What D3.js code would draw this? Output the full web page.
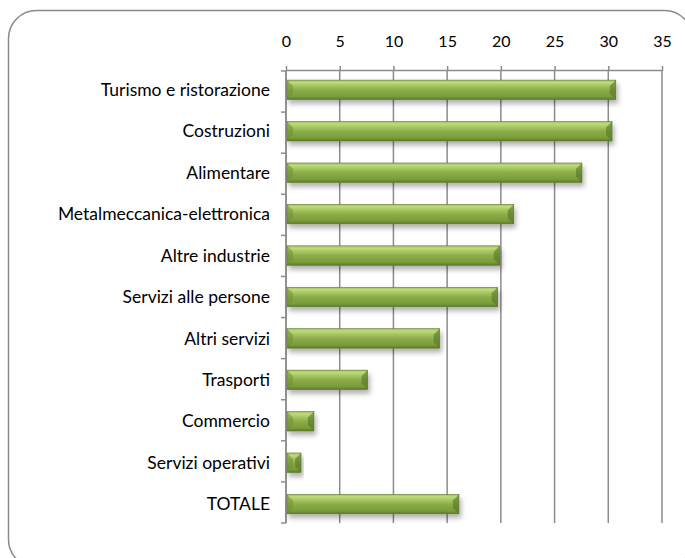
<!DOCTYPE html>
<html>
<head>
<meta charset="utf-8">
<script src="https://cdn.jsdelivr.net/npm/d3@7"></script>
<style>
  body { margin: 0; background: #fff; }
  text { font-family: Lato, "Open Sans", sans-serif; fill: #000; }
</style>
</head>
<body>
<div id="chart"></div>
<script>
const categories = [
  "Turismo e ristorazione",
  "Costruzioni",
  "Alimentare",
  "Metalmeccanica-elettronica",
  "Altre industrie",
  "Servizi alle persone",
  "Altri servizi",
  "Trasporti",
  "Commercio",
  "Servizi operativi",
  "TOTALE"
];
const values = [30.7, 30.35, 27.55, 21.2, 19.9, 19.7, 14.3, 7.6, 2.6, 1.4, 16.1];
const xTicks = [0, 5, 10, 15, 20, 25, 30, 35];

const data = categories.map((c, i) => ({ cat: c, value: values[i] }));

const svg = d3.select("#chart")
  .append("svg")
  .attr("width", 685)
  .attr("height", 558);

const defs = svg.append("defs");

const grad = defs.append("linearGradient")
  .attr("id", "barGrad")
  .attr("x1", 0).attr("y1", 0).attr("x2", 0).attr("y2", 1);
grad.append("stop").attr("offset", "0%").attr("stop-color", "#a0bf5c");
grad.append("stop").attr("offset", "12%").attr("stop-color", "#bfdb7c");
grad.append("stop").attr("offset", "28%").attr("stop-color", "#a8c763");
grad.append("stop").attr("offset", "50%").attr("stop-color", "#8bad48");
grad.append("stop").attr("offset", "85%").attr("stop-color", "#7a9b3a");
grad.append("stop").attr("offset", "100%").attr("stop-color", "#5a782c");

const shadow = defs.append("filter")
  .attr("id", "shadow")
  .attr("x", "-10%").attr("y", "-30%")
  .attr("width", "130%").attr("height", "200%");
shadow.append("feDropShadow")
  .attr("dx", 2).attr("dy", 4)
  .attr("stdDeviation", 2.5)
  .attr("flood-color", "#000")
  .attr("flood-opacity", 0.3);

// chart frame
svg.append("rect")
  .attr("x", 8.5).attr("y", 10.5)
  .attr("width", 684).attr("height", 557)
  .attr("rx", 28).attr("ry", 28)
  .attr("fill", "none")
  .attr("stroke", "#8a8a8a")
  .attr("stroke-width", 1.5);

const margin = { top: 71, left: 286 };
const width = 376, height = 452;
const g = svg.append("g").attr("transform", `translate(${margin.left},${margin.top})`);

const x = d3.scaleLinear().domain([0, 35]).range([0, width]);
const y = d3.scaleBand().domain(categories).range([0, height]).paddingInner(0.53).paddingOuter(0.22);

// vertical gridlines
g.append("g")
  .selectAll("line")
  .data(xTicks)
  .join("line")
  .attr("x1", d => x(d)).attr("x2", d => x(d))
  .attr("y1", 0).attr("y2", height)
  .attr("stroke", "#8c8c8c")
  .attr("stroke-width", 1.5);

// top axis
const xAxis = g.append("g")
  .call(d3.axisTop(x).tickValues(xTicks).tickSize(5).tickPadding(19).tickFormat(d3.format("d")));
xAxis.selectAll("path, line").attr("stroke", "#8c8c8c").attr("stroke-width", 1.5);
xAxis.select(".domain").attr("d", `M0,-0.5H${width}`);
xAxis.selectAll("text").attr("font-size", 16).attr("fill", "#000")
  .style("font-family", "Lato, 'Open Sans', sans-serif");

// left axis line and category dividers
g.append("line")
  .attr("x1", 0).attr("x2", 0).attr("y1", 0).attr("y2", height)
  .attr("stroke", "#8c8c8c").attr("stroke-width", 1.5);
const dividers = d3.range(categories.length + 1).map(i => i * (height / categories.length));
g.append("g")
  .selectAll("line")
  .data(dividers)
  .join("line")
  .attr("x1", -5).attr("x2", 0)
  .attr("y1", d => d).attr("y2", d => d)
  .attr("stroke", "#8c8c8c").attr("stroke-width", 1.5);

// category labels
g.append("g")
  .selectAll("text")
  .data(categories)
  .join("text")
  .attr("x", -16)
  .attr("y", d => y(d) + y.bandwidth() / 2)
  .attr("dy", "0.35em")
  .attr("text-anchor", "end")
  .attr("font-size", 17.5)
  .text(d => d);

// bars
const bars = g.append("g")
  .selectAll("g")
  .data(data)
  .join("g")
  .attr("filter", "url(#shadow)");

bars.append("rect")
  .attr("x", x(0) + 1)
  .attr("y", d => y(d.cat))
  .attr("width", d => x(d.value) - x(0) - 1)
  .attr("height", y.bandwidth())
  .attr("fill", "url(#barGrad)")
  .attr("stroke", "#5e7b2e")
  .attr("stroke-width", 0.6);

// bevel on left end
bars.append("path")
  .attr("d", d => {
    const x0 = x(0) + 1, y0 = y(d.cat), h = y.bandwidth();
    const b = Math.min(6, (x(d.value) - x0) / 2);
    return `M${x0},${y0}L${x0 + b},${y0 + b}L${x0 + b},${y0 + h - b}L${x0},${y0 + h}Z`;
  })
  .attr("fill", "#6f8f35")
  .attr("opacity", 0.55);

// bevel on right end
bars.append("path")
  .attr("d", d => {
    const x1 = x(d.value), y0 = y(d.cat), h = y.bandwidth();
    const b = Math.min(6, (x1 - x(0)) / 2);
    return `M${x1},${y0}L${x1 - b},${y0 + b}L${x1 - b},${y0 + h - b}L${x1},${y0 + h}Z`;
  })
  .attr("fill", "#56732a")
  .attr("opacity", 0.6);
</script>
</body>
</html>
